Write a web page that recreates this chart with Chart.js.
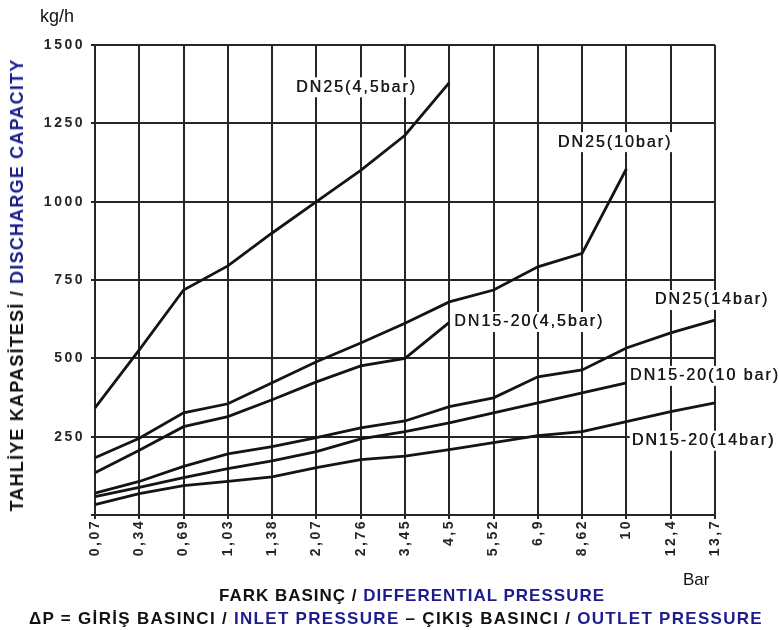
<!DOCTYPE html>
<html><head><meta charset="utf-8">
<script src="https://cdn.jsdelivr.net/npm/chart.js@4"></script>
<style>
html,body{margin:0;padding:0;background:#fff;}
#wrap{position:relative;width:779px;height:630px;overflow:hidden;background:#fff;}
canvas{position:absolute;left:0;top:0;}
.t{position:absolute;font-family:"Liberation Sans",Arial,sans-serif;white-space:nowrap;color:#111;line-height:1;}
.b{color:#1c1c8c;}
#ytitle{left:17px;top:285px;transform:translate(-50%,-50%) rotate(-90deg);font-weight:bold;font-size:18px;letter-spacing:1.2px;}
#fark{left:412px;top:595px;transform:translate(-50%,-50%);font-weight:bold;font-size:17px;letter-spacing:1px;}
#dp{left:396px;top:618px;transform:translate(-50%,-50%);font-weight:bold;font-size:17px;letter-spacing:1.3px;}
#bar{left:683px;top:571px;font-size:17px;}
#unit{left:40px;top:7px;font-size:18px;}
</style></head><body>
<div id="wrap">
<canvas id="c" width="779" height="630"></canvas>
<div class="t" id="unit">kg/h</div>
<div class="t" id="ytitle">TAHLİYE KAPASİTESİ / <span class="b">DISCHARGE CAPACITY</span></div>
<div class="t" id="fark">FARK BASINÇ / <span class="b">DIFFERENTIAL PRESSURE</span></div>
<div class="t" id="bar">Bar</div>
<div class="t" id="dp">ΔP = GİRİŞ BASINCI / <span class="b">INLET PRESSURE</span> – ÇIKIŞ BASINCI / <span class="b">OUTLET PRESSURE</span></div>
</div>
<script>
const categories = ['0,07','0,34','0,69','1,03','1,38','2,07','2,76','3,45','4,5','5,52','6,9','8,62','10','12,4','13,7'];

const dn25_45bar   = [342, 527, 718, 795, 900, 1000, 1100, 1212, 1380];
const dn25_10bar   = [183, 245, 326, 355, 422, 489, 549, 612, 680, 718, 792, 835, 1105];
const dn1520_45bar = [135, 207, 282, 314, 368, 425, 476, 500, 615];
const dn25_14bar   = [70, 107, 155, 195, 218, 247, 278, 300, 346, 374, 441, 463, 533, 581, 622];
const dn1520_10bar = [59, 88, 119, 148, 173, 202, 243, 266, 294, 326, 358, 390, 422];
const dn1520_14bar = [33, 68, 94, 107, 122, 151, 177, 188, 209, 231, 253, 266, 298, 330, 358];

const seriesNames = ['DN25(4,5bar)','DN25(10bar)','DN15-20(4,5bar)','DN25(14bar)','DN15-20(10 bar)','DN15-20(14bar)'];
const seriesValues = [dn25_45bar, dn25_10bar, dn1520_45bar, dn25_14bar, dn1520_10bar, dn1520_14bar];

const yTickValues = [250, 500, 750, 1000, 1250, 1500];

// in-chart series captions, anchored in data space (category index, value)
const captionText  = ['DN25(4,5bar)','DN25(10bar)','DN25(14bar)','DN15-20(4,5bar)','DN15-20(10 bar)','DN15-20(14bar)'];
const captionCat   = [4.54, 10.45, 12.64, 8.11, 12.08, 12.12];
const captionValue = [1365, 1190, 686, 616, 444, 237];

const GRID = '#262626';
const TICK_SPACING = '2.5px';

const spacingPlugin = {
  id: 'spacing',
  beforeUpdate(chart){ chart.ctx.letterSpacing = TICK_SPACING; },
  beforeLayout(chart){ chart.ctx.letterSpacing = TICK_SPACING; },
  beforeDraw(chart){ chart.ctx.letterSpacing = TICK_SPACING; }
};

const captionPlugin = {
  id: 'captions',
  afterDatasetsDraw(chart){
    const ctx = chart.ctx;
    const xs = chart.scales.x, ys = chart.scales.y;
    ctx.save();
    ctx.letterSpacing = '2px';
    ctx.font = '16px "Liberation Sans", Arial, sans-serif';
    ctx.textBaseline = 'middle';
    ctx.textAlign = 'left';
    captionText.forEach((t, i) => {
      const x = xs.getPixelForValue(captionCat[i]);
      const y = ys.getPixelForValue(captionValue[i]);
      const w = ctx.measureText(t).width;
      ctx.fillStyle = '#fff';
      ctx.fillRect(x - 2, y - 10, w + 2, 20);
      ctx.fillStyle = '#1a1a1a';
      ctx.fillText(t, x, y);
      ctx.fillText(t, x + 0.4, y);
    });
    ctx.restore();
  }
};

new Chart(document.getElementById('c'), {
  type: 'line',
  data: {
    labels: categories,
    datasets: seriesValues.map((v, i) => ({
      label: seriesNames[i],
      data: v,
      borderColor: '#141414',
      borderWidth: 2.8,
      pointRadius: 0,
      tension: 0,
      fill: false
    }))
  },
  options: {
    responsive: false,
    animation: false,
    devicePixelRatio: 1,
    layout: { padding: { left: 0, right: 64, top: 45, bottom: 55 } },
    plugins: { legend: { display: false }, tooltip: { enabled: false } },
    scales: {
      x: {
        type: 'category',
        offset: false,
        afterFit(s){ s.height = 60; },
        grid: { color: GRID, lineWidth: 2, offset: false, drawTicks: true, tickLength: 4, tickColor: GRID },
        border: { display: true, color: GRID, width: 2 },
        ticks: {
          autoSkip: false, maxRotation: 90, minRotation: 90, padding: 0,
          color: '#262626',
          font: { family: '"Liberation Sans", Arial, sans-serif', size: 14, weight: 'bold' }
        }
      },
      y: {
        min: 0, max: 1500,
        afterFit(s){ s.width = 95; },
        afterBuildTicks(s){ s.ticks = [0].concat(yTickValues).map(v => ({ value: v })); },
        grid: { color: GRID, lineWidth: 2, drawTicks: true, tickLength: 4, tickColor: GRID },
        border: { display: true, color: GRID, width: 2 },
        ticks: {
          padding: 6,
          color: '#262626',
          font: { family: '"Liberation Sans", Arial, sans-serif', size: 14, weight: 'bold' },
          callback: v => (v === 0 ? '' : String(v))
        }
      }
    }
  },
  plugins: [spacingPlugin, captionPlugin]
});
</script>
</body></html>
